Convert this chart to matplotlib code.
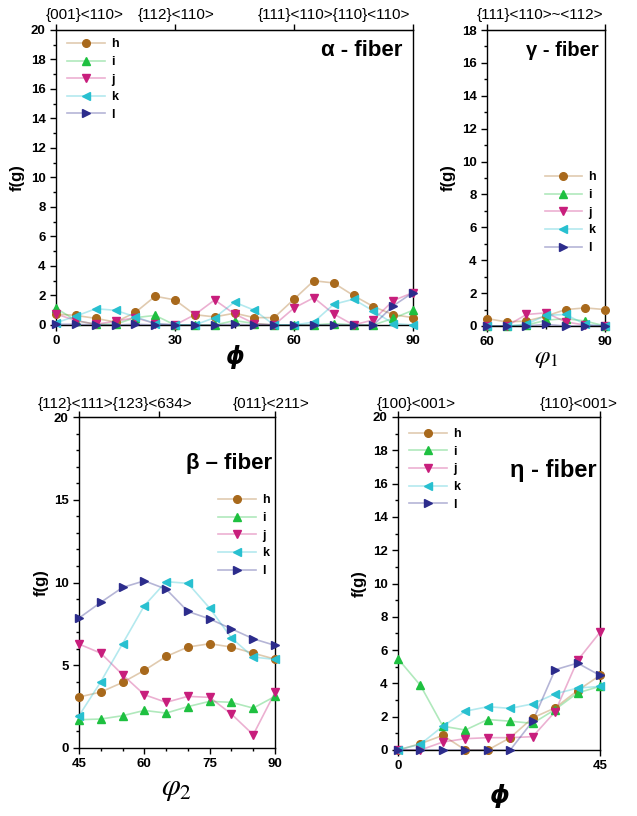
import matplotlib
matplotlib.use("Agg")
import matplotlib.pyplot as plt
from matplotlib.ticker import MultipleLocator, FixedLocator
from matplotlib.lines import Line2D

plt.rcParams['font.family'] = ['Liberation Sans', 'DejaVu Sans']
plt.rcParams['mathtext.fontset'] = 'stix'

series_names = ['h', 'i', 'j', 'k', 'l']

# alpha fiber (phi 0..90 step 5)
alpha_x = list(range(0, 95, 5))
alpha_h = [0.75, 0.65, 0.45, 0.2, 0.85, 1.95, 1.7, 0.7, 0.55, 0.8, 0.5, 0.5, 1.75, 3.0, 2.85, 2.0, 1.25, 0.7, 0.5]
alpha_i = [1.15, 0.3, 0.05, 0.05, 0.5, 0.65, 0.0, 0.0, 0.0, 0.3, 0.1, 0.0, 0.0, 0.0, 0.1, 0.0, 0.0, 0.45, 1.0]
alpha_j = [0.75, 0.3, 0.05, 0.25, 0.5, 0.1, 0.0, 0.7, 1.7, 0.75, 0.1, 0.0, 1.15, 1.85, 0.75, 0.0, 0.35, 1.65, 2.2]
alpha_k = [0.15, 0.6, 1.1, 1.0, 0.55, 0.1, 0.0, 0.0, 0.5, 1.55, 1.0, 0.0, 0.0, 0.2, 1.4, 1.75, 0.95, 0.1, 0.0]
alpha_l = [0.05, 0.05, 0.0, 0.0, 0.05, 0.0, 0.0, 0.0, 0.0, 0.05, 0.0, 0.0, 0.0, 0.0, 0.0, 0.0, 0.0, 1.3, 2.2]

# gamma fiber (phi1 60..90 step 5)
gamma_x = list(range(60, 95, 5))
gamma_h = [0.45, 0.25, 0.3, 0.6, 1.0, 1.1, 1.0]
gamma_i = [0.0, 0.0, 0.05, 0.35, 0.45, 0.3, 0.0]
gamma_j = [0.0, 0.0, 0.7, 0.8, 0.25, 0.05, 0.0]
gamma_k = [0.0, 0.0, 0.1, 0.65, 0.7, 0.1, 0.0]
gamma_l = [0.0, 0.0, 0.0, 0.1, 0.0, 0.0, 0.0]

# beta fiber (phi2 45..90 step 5)
beta_x = list(range(45, 95, 5))
beta_h = [3.08, 3.38, 3.96, 4.69, 5.53, 6.1, 6.3, 6.1, 5.73, 5.37]
beta_i = [1.71, 1.75, 1.95, 2.27, 2.11, 2.5, 2.82, 2.76, 2.41, 3.12]
beta_j = [6.28, 5.73, 4.43, 3.22, 2.76, 3.12, 3.06, 2.05, 0.8, 3.36]
beta_k = [1.95, 4.0, 6.3, 8.6, 10.05, 9.95, 8.45, 6.65, 5.5, 5.35]
beta_l = [7.85, 8.8, 9.7, 10.1, 9.6, 8.25, 7.8, 7.2, 6.6, 6.2]

# eta fiber (phi 0..45 step 5)
eta_x = list(range(0, 50, 5))
eta_h = [0.0, 0.38, 0.88, 0.0, 0.0, 0.74, 1.93, 2.53, 3.57, 4.48]
eta_i = [5.48, 3.88, 1.43, 1.2, 1.83, 1.73, 1.6, 2.43, 3.43, 3.82]
eta_j = [0.0, 0.0, 0.48, 0.68, 0.74, 0.74, 0.8, 2.3, 5.38, 7.07]
eta_k = [0.0, 0.35, 1.43, 2.33, 2.6, 2.5, 2.77, 3.37, 3.72, 3.82]
eta_l = [0.0, 0.0, 0.0, 0.0, 0.0, 0.0, 1.73, 4.82, 5.22, 4.48]

colors = ['#a8691c', '#1ec040', '#c81e7c', '#28c0d0', '#2c2c8c']
markers = ['o', '^', 'v', '<', '>']
MS = 5.5

W, H = 637, 816
fig = plt.figure(figsize=(W / 100, H / 100), dpi=100)


def add_ax(l, r, t, b):
    return fig.add_axes([l / W, 1 - b / H, (r - l) / W, (b - t) / H])


def style(ax, xlim, ylim, xmaj, xmin, ymaj, ymin):
    ax.set_xlim(*xlim)
    ax.set_ylim(*ylim)
    ax.xaxis.set_major_locator(FixedLocator(xmaj))
    if xmin:
        ax.xaxis.set_minor_locator(FixedLocator(xmin))
    ax.yaxis.set_major_locator(MultipleLocator(ymaj))
    ax.yaxis.set_minor_locator(MultipleLocator(ymin))
    ax.tick_params(which='both', direction='out', width=1, colors='black')
    ax.tick_params(which='major', length=4, labelsize=9.5)
    ax.tick_params(which='minor', length=2.5)
    for lab in ax.get_xticklabels() + ax.get_yticklabels():
        lab.set_fontweight('bold')
    for s in ax.spines.values():
        s.set_linewidth(1.0)


def plot_series(ax, x, ys):
    for y, c, m in zip(ys, colors, markers):
        ax.plot(x, y, color=c, alpha=0.35, lw=1.2, zorder=2, clip_on=False)
        ax.plot(x, y, linestyle='none', marker=m, color=c, ms=MS, zorder=3, clip_on=False)


def legend(ax, **kw):
    hs = []
    for c, m in zip(colors, markers):
        ln = Line2D([], [], color=c, alpha=0.35, lw=1.2)
        mk = Line2D([], [], color=c, marker=m, ms=MS, linestyle='none')
        hs.append((ln, mk))
    leg = ax.legend(hs, series_names, frameon=False, handlelength=3.0, handletextpad=0.5,
                    labelspacing=0.45, prop={'weight': 'bold', 'size': 9}, **kw)
    return leg


def top_ticks(ax, ticks):
    tx = ax.secondary_xaxis('top')
    tx.set_xticks(ticks)
    tx.set_xticklabels([])
    tx.tick_params(direction='out', length=4, width=1)
    return tx


# ---------- alpha ----------
ax1 = add_ax(56, 413, 30, 325)
plot_series(ax1, alpha_x, [alpha_h, alpha_i, alpha_j, alpha_k, alpha_l])
style(ax1, (0, 90), (0, 20), [0, 30, 60, 90], [15, 45, 75], 2, 1)
top_ticks(ax1, [0, 30, 60, 90])
legend(ax1, loc='upper left', bbox_to_anchor=(0.0, 1.01))
ax1.text(0.97, 0.93, 'α - fiber', transform=ax1.transAxes, ha='right', va='center',
         fontsize=16, fontweight='bold')
ax1.set_ylabel('f(g)', fontsize=12, fontweight='bold', labelpad=4)
ax1.set_xlabel('ϕ', fontsize=17, fontweight='bold', fontstyle='italic',
               family='DejaVu Sans', labelpad=-2)

# ---------- gamma ----------
ax2 = add_ax(487, 605, 30, 326)
plot_series(ax2, gamma_x, [gamma_h, gamma_i, gamma_j, gamma_k, gamma_l])
style(ax2, (60, 90), (0, 18), [60, 90], [75], 2, 1)
top_ticks(ax2, [60, 90])
legend(ax2, loc='upper right', bbox_to_anchor=(1.02, 0.56))
ax2.text(0.95, 0.93, 'γ - fiber', transform=ax2.transAxes, ha='right', va='center',
         fontsize=14.5, fontweight='bold')
ax2.set_ylabel('f(g)', fontsize=12, fontweight='bold', labelpad=4)
ax2.set_xlabel(r'$\varphi_1$', fontsize=18, labelpad=-2)

# ---------- beta ----------
ax3 = add_ax(79, 275, 417, 748)
plot_series(ax3, beta_x, [beta_h, beta_i, beta_j, beta_k, beta_l])
style(ax3, (45, 90), (0, 20), [45, 60, 75, 90], [50, 55, 65, 70, 80, 85], 5, 1)
top_ticks(ax3, [45, 63.4, 90])
legend(ax3, loc='upper right', bbox_to_anchor=(1.03, 0.8))
ax3.text(0.985, 0.86, 'β – fiber', transform=ax3.transAxes, ha='right', va='center',
         fontsize=16, fontweight='bold')
ax3.set_ylabel('f(g)', fontsize=12, fontweight='bold', labelpad=4)
ax3.set_xlabel(r'$\varphi_2$', fontsize=22, labelpad=2)

# ---------- eta ----------
ax4 = add_ax(398, 600, 417, 750)
plot_series(ax4, eta_x, [eta_h, eta_i, eta_j, eta_k, eta_l])
style(ax4, (0, 45), (0, 20), [0, 45], None, 2, 1)
top_ticks(ax4, [0, 45])
legend(ax4, loc='upper left', bbox_to_anchor=(0.0, 1.0))
ax4.text(0.985, 0.84, 'η - fiber', transform=ax4.transAxes, ha='right', va='center',
         fontsize=17, fontweight='bold')
ax4.set_ylabel('f(g)', fontsize=12, fontweight='bold', labelpad=4)
ax4.set_xlabel('ϕ', fontsize=18, fontweight='bold', fontstyle='italic',
               family='DejaVu Sans', labelpad=8)

# ---------- orientation labels ----------
def ftxt(x, y, s, ha='left'):
    fig.text(x / W, 1 - y / H, s, ha=ha, va='center', fontsize=11)

ftxt(46, 15, '{001}<110>')
ftxt(138, 15, '{112}<110>')
ftxt(258, 15, '{111}<110>{110}<110>')
ftxt(477, 15, '{111}<110>~<112>')
ftxt(38, 404, '{112}<111>{123}<634>')
ftxt(233, 404, '{011}<211>')
ftxt(377, 404, '{100}<001>')
ftxt(540, 404, '{110}<001>')

fig.savefig('out.png', dpi=100)
